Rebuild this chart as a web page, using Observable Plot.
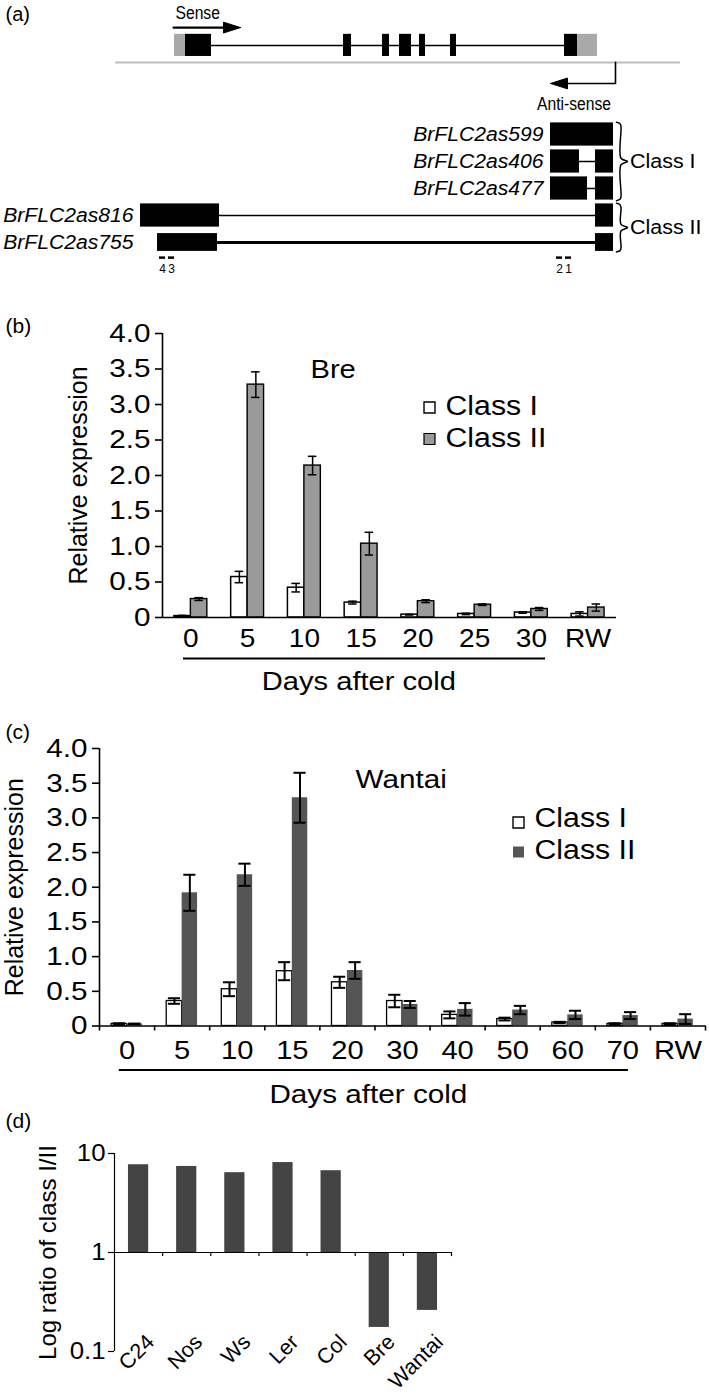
<!DOCTYPE html>
<html><head><meta charset="utf-8">
<script src="https://cdn.jsdelivr.net/npm/d3@7"></script>
<script src="https://cdn.jsdelivr.net/npm/@observablehq/plot@0.6"></script>
<style>
html,body{margin:0;padding:0;background:#fff;}
#page{position:relative;width:709px;height:1396px;overflow:hidden;background:#fff;}
</style></head>
<body><div id="page"></div>
<script>
// ================= DATA =================
// (a) gene model: positions in bp relative to the sense transcription start
const senseUTRs = [[0, 110], [4030, 4230]];
const senseExons = [[110, 370], [1690, 1770], [2080, 2150], [2250, 2370], [2450, 2510], [2760, 2820], [3900, 4030]];
const genomeSpan = [-590, 5060];
const senseArrowSpan = [-10, 660];
const antisenseStart = 4410;
const antisenseArrowEnd = 3760;
const transcripts = ["BrFLC2as599", "BrFLC2as406", "BrFLC2as477", "BrFLC2as816", "BrFLC2as755"];
const transcriptClass = ["Class I", "Class I", "Class I", "Class II", "Class II"];
const transcriptExons = [
  [[3760, 4390]],
  [[3760, 4050], [4210, 4390]],
  [[3760, 4130], [4210, 4390]],
  [[-340, 450], [4210, 4390]],
  [[-170, 430], [4210, 4390]]
];
const primerNames = ["4", "3", "2", "1"];
const primerSpans = [[-150, -90], [-60, 0], [3820, 3880], [3910, 3970]];

// (b) Bre
const daysB = ["0", "5", "10", "15", "20", "25", "30", "RW"];
const breClassI = [0.02, 0.57, 0.42, 0.21, 0.04, 0.05, 0.07, 0.05];
const breClassIErr = [0.01, 0.08, 0.06, 0.02, 0.005, 0.01, 0.01, 0.03];
const breClassII = [0.26, 3.28, 2.14, 1.04, 0.23, 0.18, 0.12, 0.14];
const breClassIIErr = [0.02, 0.18, 0.13, 0.16, 0.02, 0.01, 0.02, 0.05];

// (c) Wantai
const daysC = ["0", "5", "10", "15", "20", "30", "40", "50", "60", "70", "RW"];
const wanClassI = [0.03, 0.36, 0.53, 0.79, 0.63, 0.36, 0.16, 0.10, 0.05, 0.03, 0.03];
const wanClassIErr = [0.01, 0.04, 0.10, 0.13, 0.08, 0.09, 0.05, 0.02, 0.01, 0.01, 0.01];
const wanClassII = [0.03, 1.92, 2.18, 3.29, 0.80, 0.31, 0.24, 0.23, 0.16, 0.15, 0.10];
const wanClassIIErr = [0.005, 0.26, 0.16, 0.36, 0.12, 0.05, 0.09, 0.06, 0.06, 0.05, 0.07];

const yTicksExpr = [0, 0.5, 1, 1.5, 2, 2.5, 3, 3.5, 4];

// (d) ratio class I / class II
const accessions = ["C24", "Nos", "Ws", "Ler", "Col", "Bre", "Wantai"];
const ratios = [7.7, 7.4, 6.4, 8.1, 6.7, 0.175, 0.26];
const yTicksD = [0.1, 1, 10];

// ================= HELPERS =================
const FONT = "'Liberation Sans', Arial, Helvetica, sans-serif";
const page = document.getElementById("page");

function place(svg, top) {
  svg.style.position = "absolute";
  svg.style.top = top + "px";
  svg.style.left = "0px";
  page.appendChild(svg);
  return svg;
}
function isRotated(el, svg) {
  for (let n = el; n && n !== svg; n = n.parentNode) {
    const t = n.getAttribute && n.getAttribute("transform");
    if (t && t.includes("rotate")) return true;
  }
  return false;
}
// widen / narrow horizontal text to mimic the reference's glyph proportions
function stretch(svg, factorFor) {
  svg.querySelectorAll("text").forEach(t => {
    if (isRotated(t, svg)) return;
    if (t.querySelector("tspan")) return;
    const f = factorFor(t.textContent);
    if (!f || f === 1) return;
    const L = t.getComputedTextLength();
    if (L > 0) {
      t.setAttribute("textLength", (L * f).toFixed(2));
      t.setAttribute("lengthAdjust", "spacingAndGlyphs");
    }
  });
}
const baseStyle = {fontFamily: FONT, background: "transparent", color: "black", overflow: "visible"};

// ================= PANEL (a) =================
{
  const H = 275, rowPx = 27, row0 = 134;
  const T = {senseLabel: -4.26, senseArrow: -3.96, sense: -3.3, genome: -2.67, asArrow: -1.89, asLabel: -0.89, primer: 4.56, primerLabel: 4.98};
  const halfH = transcripts.map((d, i) => i === 4 ? 0.33 : 0.43);
  const exonRows = [];
  const intronRows = [];
  transcripts.forEach((name, i) => {
    const ex = transcriptExons[i];
    ex.forEach(([a, b]) => exonRows.push({x1: a, x2: b, t: i, h: halfH[i]}));
    for (let k = 1; k < ex.length; k++) intronRows.push({x1: ex[k - 1][1], x2: ex[k][0], t: i, w: i === 4 ? 3 : 1.5});
  });
  const classes = Array.from(new Set(transcriptClass));
  const labelRows = transcripts.map((name, i) => {
    const members = transcripts.map((n, j) => j).filter(j => transcriptClass[j] === transcriptClass[i]);
    const minStart = d3.min(members, j => transcriptExons[j][0][0]);
    return {name, t: i, x: minStart - 70};
  });
  const braces = [];
  const classLabels = [];
  classes.forEach(c => {
    const rows = transcripts.map((n, j) => j).filter(j => transcriptClass[j] === c);
    const top = rows[0] - halfH[rows[0]] - 0.02, bot = rows[rows.length - 1] + halfH[rows[rows.length - 1]] + 0.02;
    const mid = (top + bot) / 2;
    const x0 = antisenseStart + 10, xm = x0 + 45, xt = x0 + 110;
    const pts = [[x0, top], [xm - 10, top + 0.05], [xm, top + 0.15], [xm, mid - 0.12], [xt, mid], [xm, mid + 0.12], [xm, bot - 0.15], [xm - 10, bot - 0.05], [x0, bot]];
    pts.forEach(p => braces.push({x: p[0], y: p[1], c}));
    classLabels.push({c, x: xt + 25, t: mid});
  });
  const senseShaft = [[senseArrowSpan[0], T.senseArrow], [senseArrowSpan[1] - 120, T.senseArrow]];
  const senseHead = [[senseArrowSpan[1], T.senseArrow], [senseArrowSpan[1] - 170, T.senseArrow - 0.2], [senseArrowSpan[1] - 170, T.senseArrow + 0.2], [senseArrowSpan[1], T.senseArrow]];
  const asShaft = [[antisenseStart, T.genome], [antisenseStart, T.asArrow], [antisenseArrowEnd + 120, T.asArrow]];
  const asHead = [[antisenseArrowEnd, T.asArrow], [antisenseArrowEnd + 170, T.asArrow - 0.2], [antisenseArrowEnd + 170, T.asArrow + 0.2], [antisenseArrowEnd, T.asArrow]];

  const svg = Plot.plot({
    width: 709, height: H, margin: 0,
    x: {domain: [-1740, 5350], range: [0, 709], axis: null},
    y: {domain: [-row0 / rowPx, (H - row0) / rowPx], range: [0, H], axis: null},
    style: baseStyle,
    marks: [
      Plot.ruleY([T.genome], {x1: genomeSpan[0], x2: genomeSpan[1], stroke: "#bdbdbd", strokeWidth: 2}),
      Plot.ruleY([T.sense], {x1: senseExons[0][1], x2: senseExons[senseExons.length - 1][0], stroke: "black", strokeWidth: 1.5}),
      Plot.rect(senseUTRs, {x1: d => d[0], x2: d => d[1], y1: T.sense - 0.41, y2: T.sense + 0.41, fill: "#a9a9a9"}),
      Plot.rect(senseExons, {x1: d => d[0], x2: d => d[1], y1: T.sense - 0.41, y2: T.sense + 0.41, fill: "black"}),
      Plot.line(senseShaft, {x: d => d[0], y: d => d[1], stroke: "black", strokeWidth: 2.2}),
      Plot.line(senseHead, {x: d => d[0], y: d => d[1], fill: "black", stroke: "black", strokeWidth: 1}),
      Plot.line(asShaft, {x: d => d[0], y: d => d[1], stroke: "black", strokeWidth: 1.6}),
      Plot.line(asHead, {x: d => d[0], y: d => d[1], fill: "black", stroke: "black", strokeWidth: 1}),
      Plot.text(["Sense"], {x: senseArrowSpan[0] + 20, y: T.senseLabel, textAnchor: "start", lineAnchor: "bottom", fontSize: 18}),
      Plot.text(["Anti-sense"], {x: antisenseArrowEnd + 235, y: T.asLabel, textAnchor: "middle", lineAnchor: "bottom", fontSize: 18}),
      Plot.ruleY(intronRows, {y: "t", x1: "x1", x2: "x2", stroke: "black", strokeWidth: d => d.w}),
      Plot.rect(exonRows, {x1: "x1", x2: "x2", y1: d => d.t - d.h, y2: d => d.t + d.h, fill: "black"}),
      Plot.text(labelRows, {x: "x", y: "t", text: "name", textAnchor: "end", fontSize: 20.5, fontStyle: "italic"}),
      Plot.line(braces, {x: "x", y: "y", z: "c", stroke: "black", strokeWidth: 1.5, curve: "catmull-rom"}),
      Plot.text(classLabels, {x: "x", y: "t", text: "c", textAnchor: "start", fontSize: 19.5}),
      Plot.ruleY(primerSpans, {y: T.primer, x1: d => d[0], x2: d => d[1], stroke: "black", strokeWidth: 2.5}),
      Plot.text(primerNames, {x: (d, i) => (primerSpans[i][0] + primerSpans[i][1]) / 2, y: T.primerLabel, fontSize: 12}),
      Plot.text(["(a)"], {frameAnchor: "top-left", dx: 5, dy: 20, textAnchor: "start", lineAnchor: "bottom", fontSize: 20})
    ]
  });
  place(svg, 0);
  stretch(svg, s => s === "Sense" || s === "Anti-sense" ? 0.87 : s.startsWith("BrFLC") ? 1.03 : /^[0-9]$/.test(s) ? 1 : (s === "(a)" ? 1 : 1.1));
}

// ================= PANELS (b) & (c) =================
function expressionPanel(o) {
  const n = o.days.length;
  const w = o.barW;
  const rows = [];
  o.days.forEach((d, i) => {
    rows.push({cls: "Class I", x1: i + 0.5 - w, x2: i + 0.5, c: i + 0.5 - w / 2, v: o.classI[i], e: o.classIErr[i]});
    rows.push({cls: "Class II", x1: i + 0.5, x2: i + 0.5 + w, c: i + 0.5 + w / 2, v: o.classII[i], e: o.classIIErr[i]});
  });
  const r1 = rows.filter(r => r.cls === "Class I");
  const r2 = rows.filter(r => r.cls === "Class II");
  const numeric = o.days.map((d, i) => isNaN(+d) ? -1 : i).filter(i => i >= 0);
  const u1 = numeric[0] + o.underline[0], u2 = numeric[numeric.length - 1] + o.underline[1];
  const tickFmt = d => d === 0 ? "0" : d.toFixed(1);
  const marks = [
    Plot.rect(r1, {x1: "x1", x2: "x2", y1: 0, y2: "v", fill: "white", stroke: "black", strokeWidth: o.strokeI}),
    o.stroke2 ? Plot.rect(r2, {x1: "x1", x2: "x2", y1: 0, y2: "v", fill: o.fill2, stroke: o.stroke2, strokeWidth: 1.4})
              : Plot.rect(r2, {x1: "x1", x2: "x2", y1: 0, y2: "v", fill: o.fill2}),
    Plot.ruleX(rows, {x: "c", y1: d => d.v - d.e, y2: d => d.v + d.e, stroke: "black", strokeWidth: o.errW}),
    Plot.ruleY(rows, {y: d => d.v + d.e, x1: d => d.c - o.cap, x2: d => d.c + o.cap, stroke: "black", strokeWidth: o.errW}),
    Plot.ruleY(rows, {y: d => d.v - d.e, x1: d => d.c - o.cap, x2: d => d.c + o.cap, stroke: "black", strokeWidth: o.errW}),
    Plot.ruleX([0], {y1: 0, y2: 4, stroke: "black", strokeWidth: 1.6}),
    Plot.ruleY([0], {x1: 0, x2: n, stroke: "black", strokeWidth: 1.6}),
    Plot.axisY({ticks: yTicksExpr, tickFormat: tickFmt, tickSize: 7, tickPadding: 5, fontSize: o.tickSize, strokeWidth: 1.6, label: null}),
    Plot.text(o.days, {x: (d, i) => i + 0.5, frameAnchor: "bottom", lineAnchor: "bottom", dy: o.labelDy, fontSize: o.xLabelSize}),
    Plot.ruleY([0], {x1: u1, x2: u2, dy: o.underDy, stroke: "black", strokeWidth: 2.2}),
    Plot.text(["Days after cold"], {x: (u1 + u2) / 2 - 0.1, frameAnchor: "bottom", lineAnchor: "bottom", dy: o.titleDy, fontSize: o.titleSize}),
    Plot.text(["Relative expression"], {frameAnchor: "left", rotate: -90, textAnchor: "middle", lineAnchor: "middle", dx: o.yLabelDx, fontSize: 25}),
    Plot.text([o.name], {frameAnchor: "top-left", dx: o.nameDx, dy: o.nameDy, textAnchor: "start", lineAnchor: "bottom", fontSize: o.nameSize}),
    Plot.dot([0], {frameAnchor: "top-left", dx: o.legSqDx, dy: o.legDy[0], symbol: "square", r: 6.2, fill: "white", stroke: "black", strokeWidth: 1.4}),
    o.stroke2 ? Plot.dot([0], {frameAnchor: "top-left", dx: o.legSqDx, dy: o.legDy[1], symbol: "square", r: 6.2, fill: o.fill2, stroke: o.stroke2, strokeWidth: 1.2})
              : Plot.dot([0], {frameAnchor: "top-left", dx: o.legSqDx, dy: o.legDy[1], symbol: "square", r: 6.2, fill: o.fill2}),
    Plot.text(["Class I"], {frameAnchor: "top-left", dx: o.legTxDx, dy: o.legTxDy[0], textAnchor: "start", lineAnchor: "bottom", fontSize: o.legSize}),
    Plot.text(["Class II"], {frameAnchor: "top-left", dx: o.legTxDx, dy: o.legTxDy[1], textAnchor: "start", lineAnchor: "bottom", fontSize: o.legSize}),
    Plot.text([o.panel], {frameAnchor: "top-left", dx: o.panelDx, dy: o.panelDy, textAnchor: "start", lineAnchor: "bottom", fontSize: 20})
  ];
  if (o.groupTicks) marks.push(Plot.axisX({ticks: d3.range(n + 1), tickSize: 5, tickFormat: () => "", strokeWidth: 1.6, label: null}));
  return Plot.plot({
    width: 709, height: o.height,
    marginTop: o.mt, marginBottom: o.mb, marginLeft: o.ml, marginRight: o.mr,
    x: {domain: [0, n], axis: o.groupTicks ? undefined : null, label: null},
    y: {domain: [0, 4], label: null},
    style: baseStyle,
    marks
  });
}

const svgB = place(expressionPanel({
  days: daysB, classI: breClassI, classIErr: breClassIErr, classII: breClassII, classIIErr: breClassIIErr,
  name: "Bre", panel: "(b)",
  height: 430, mt: 58, mb: 88, ml: 162, mr: 93,
  barW: 0.29, cap: 0.075, errW: 1.5, strokeI: 1.5, fill2: "#9a9a9a", stroke2: "black",
  tickSize: 26.5, xLabelSize: 25, titleSize: 26, nameSize: 26, legSize: 27,
  labelDy: 29, underDy: 41, titleDy: 72, underline: [0.37, 0.75], yLabelDx: -84,
  nameDx: 148, nameDy: 44,
  legSqDx: 267, legDy: [74, 105.5], legTxDx: 283, legTxDy: [81, 113],
  panelDx: -157, panelDy: -1, groupTicks: false
}), 275);
stretch(svgB, s => s.startsWith("(") ? 1.05 : 1.12);

const svgC = place(expressionPanel({
  days: daysC, classI: wanClassI, classIErr: wanClassIErr, classII: wanClassII, classIIErr: wanClassIIErr,
  name: "Wantai", panel: "(c)",
  height: 405, mt: 43, mb: 84.5, ml: 99, mr: 4,
  barW: 0.28, cap: 0.11, errW: 2, strokeI: 1.3, fill2: "#555555", stroke2: null,
  tickSize: 26.5, xLabelSize: 26, titleSize: 26.5, nameSize: 26.5, legSize: 27,
  labelDy: 33, underDy: 44, titleDy: 77, underline: [0.36, 0.6], yLabelDx: -85,
  nameDx: 256, nameDy: 39,
  legSqDx: 419, legDy: [74, 103.5], legTxDx: 435, legTxDy: [78, 110],
  panelDx: -94, panelDy: -10, groupTicks: true
}), 705);
stretch(svgC, s => s.startsWith("(") ? 1.05 : 1.12);

// ================= PANEL (d) =================
{
  const n = accessions.length;
  const bw = 0.42;
  const svg = Plot.plot({
    width: 709, height: 286, marginTop: 43, marginBottom: 45, marginLeft: 114, marginRight: 258,
    x: {domain: [0, n], axis: null, label: null},
    y: {type: "log", domain: [0.1, 10], label: null},
    style: baseStyle,
    marks: [
      Plot.rect(accessions, {x1: (d, i) => i + 0.5 - bw / 2, x2: (d, i) => i + 0.5 + bw / 2, y1: 1, y2: (d, i) => ratios[i], fill: "#444444"}),
      Plot.ruleX([0], {y1: 0.1, y2: 10, stroke: "black", strokeWidth: 1.2}),
      Plot.ruleY([1], {x1: 0, x2: n, stroke: "black", strokeWidth: 1.2}),
      Plot.ruleX(d3.range(1, n + 1), {y1: 1, y2: 0.91, stroke: "black", strokeWidth: 1.2}),
      Plot.axisY({ticks: yTicksD, tickFormat: d => String(d), tickSize: 6, tickPadding: 3, fontSize: 23, strokeWidth: 1.2, label: null}),
      Plot.text(accessions, {x: (d, i) => i + 0.5, frameAnchor: "bottom", rotate: -45, textAnchor: "end", lineAnchor: "middle", dx: 12, dy: -13, fontSize: 21.5}),
      Plot.text(["Log ratio of class I/II"], {frameAnchor: "left", rotate: -90, textAnchor: "middle", lineAnchor: "middle", dx: -66, fontSize: 24}),
      Plot.text(["(d)"], {frameAnchor: "top-left", dx: -109, dy: -26, textAnchor: "start", lineAnchor: "bottom", fontSize: 20})
    ]
  });
  place(svg, 1110);
  stretch(svg, s => s.startsWith("(") ? 1.05 : 1.12);
}
</script>
</body></html>
